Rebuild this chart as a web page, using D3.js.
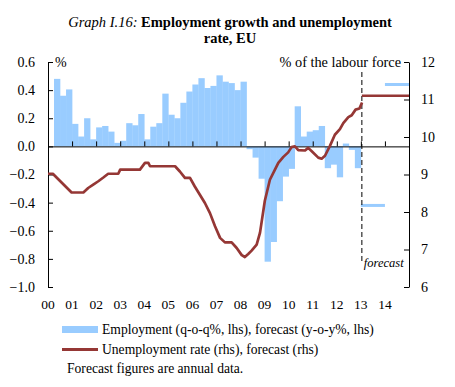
<!DOCTYPE html>
<html>
<head>
<meta charset="utf-8">
<script src="https://cdn.jsdelivr.net/npm/d3@7"></script>
<style>
  body { margin: 0; background: #fff; }
  svg text { font-family: "Liberation Serif", "Times New Roman", serif !important; fill: #000; }
</style>
</head>
<body>
<div id="chart"></div>
<script>
// data
let yearLabels = ["00", "01", "02", "03", "04", "05", "06", "07", "08", "09", "10", "11", "12", "13", "14"];

// quarterly employment growth, q-o-q %, lhs
let quarters = [
  "2000Q2", "2000Q3", "2000Q4",
  "2001Q1", "2001Q2", "2001Q3", "2001Q4",
  "2002Q1", "2002Q2", "2002Q3", "2002Q4",
  "2003Q1", "2003Q2", "2003Q3", "2003Q4",
  "2004Q1", "2004Q2", "2004Q3", "2004Q4",
  "2005Q1", "2005Q2", "2005Q3", "2005Q4",
  "2006Q1", "2006Q2", "2006Q3", "2006Q4",
  "2007Q1", "2007Q2", "2007Q3", "2007Q4",
  "2008Q1", "2008Q2", "2008Q3", "2008Q4",
  "2009Q1", "2009Q2", "2009Q3", "2009Q4",
  "2010Q1", "2010Q2", "2010Q3", "2010Q4",
  "2011Q1", "2011Q2", "2011Q3", "2011Q4",
  "2012Q1", "2012Q2", "2012Q3", "2012Q4"
];
let employment = [
  0.48, 0.36, 0.405,
  0.16, 0.07, 0.20, 0.05,
  0.135, 0.145, 0.105, 0.025,
  0.04, 0.165, 0.15, 0.23,
  0.05, 0.14, 0.165, 0.375,
  0.225, 0.20, 0.31, 0.39,
  0.44, 0.485, 0.415, 0.43,
  0.505, 0.46, 0.45, 0.40,
  0.46, -0.02, -0.08, -0.23,
  -0.82, -0.68, -0.39, -0.215,
  -0.16, 0.285, 0.07, 0.105,
  0.115, 0.145, -0.155, -0.13,
  -0.22, 0.02, -0.025, -0.155
];

// unemployment rate, % of labour force, rhs
let unempDates = [
  2000.0, 2000.2, 2000.98, 2001.47, 2001.67, 2001.88, 2002.09, 2002.3, 2002.5, 2002.92,
  2003.0, 2003.82, 2004.03, 2004.17, 2004.24, 2005.28, 2005.48, 2005.69, 2005.9, 2006.1,
  2006.31, 2006.52, 2006.73, 2006.94, 2007.15, 2007.35, 2007.63, 2007.84, 2008.05, 2008.18,
  2008.32, 2008.46, 2008.67, 2008.81, 2009.01, 2009.22, 2009.43, 2009.57, 2009.78, 2009.98,
  2010.12, 2010.26, 2010.4, 2010.68, 2010.81, 2010.96, 2011.23, 2011.37, 2011.51, 2011.72,
  2011.92, 2012.13, 2012.27, 2012.48, 2012.62, 2012.78, 2012.94, 2013.05
];
let unempRate = [
  9.02, 9.02, 8.52, 8.52, 8.64, 8.73, 8.82, 8.92, 9.02, 9.02,
  9.13, 9.13, 9.31, 9.31, 9.22, 9.22, 9.08, 8.91, 8.91, 8.68,
  8.46, 8.24, 7.97, 7.62, 7.31, 7.19, 7.19, 7.04, 6.85, 6.8,
  6.88, 6.97, 7.13, 7.45, 8.3, 8.86, 9.13, 9.31, 9.47, 9.59,
  9.73, 9.75, 9.65, 9.64, 9.71, 9.62, 9.45, 9.42, 9.5, 9.77,
  10.06, 10.21, 10.37, 10.53, 10.58, 10.73, 10.76, 10.92
];

// annual forecasts
let forecastYears = [2013, 2014];
let empForecast = [-0.42, 0.44];
let unempForecast = [11.1, 11.1];

let leftTicks = [0.6, 0.4, 0.2, 0.0, -0.2, -0.4, -0.6, -0.8, -1.0];
let rightTicks = [12, 11, 10, 9, 8, 7, 6];

// colours
let barColour = "#99ccff";
let lineColour = "#953735";
let serif = "'Liberation Serif', 'Times New Roman', serif";

// svg
let w = 455, h = 387;
let svg = d3.select("#chart")
  .append("svg")
  .attr("width", w)
  .attr("height", h)
  .attr("viewBox", "0 0 " + w + " " + h)
  .style("font-family", serif);

let x = d3.scaleLinear().domain([2000, 2015]).range([48, 409]);
let yL = d3.scaleLinear().domain([-1, 0.6]).range([287, 62]);
let yR = d3.scaleLinear().domain([6, 12]).range([287, 62]);

function qToYear(q) {
  return +q.slice(0, 4) + (+q.slice(5) - 1) / 4;
}

// title
let title = svg.append("text")
  .attr("x", 230)
  .attr("y", 27)
  .style("text-anchor", "middle")
  .style("font-size", "14.5px");
title.append("tspan").style("font-style", "italic").text("Graph I.16: ");
title.append("tspan").style("font-weight", "bold").text("Employment growth and unemployment");
svg.append("text")
  .attr("x", 230)
  .attr("y", 43)
  .style("text-anchor", "middle")
  .style("font-size", "14.5px")
  .style("font-weight", "bold")
  .text("rate, EU");

// bars
let qw = x(2000.25) - x(2000);
svg.append("g").selectAll("rect").data(quarters).join("rect")
  .attr("x", d => x(qToYear(d)))
  .attr("width", qw + 0.3)
  .attr("y", (d, i) => Math.min(yL(employment[i]), yL(0)))
  .attr("height", (d, i) => Math.abs(yL(employment[i]) - yL(0)))
  .attr("fill", barColour);

// employment forecast
svg.append("g").selectAll("line").data(forecastYears).join("line")
  .attr("x1", d => x(d))
  .attr("x2", d => x(d + 1))
  .attr("y1", (d, i) => yL(empForecast[i]))
  .attr("y2", (d, i) => yL(empForecast[i]))
  .attr("stroke", barColour)
  .attr("stroke-width", 3);

// x axis along zero
let xAxis = d3.axisBottom(x)
  .tickValues(d3.range(2001, 2015))
  .tickSizeInner(-5)
  .tickSizeOuter(0)
  .tickFormat("");
svg.append("g")
  .attr("transform", "translate(0," + yL(0) + ")")
  .call(xAxis)
  .call(g => g.selectAll("line,path").attr("stroke", "#000"));

// year labels at bottom
svg.append("g").selectAll("text").data(yearLabels).join("text")
  .attr("x", (d, i) => x(2000 + i))
  .attr("y", 309)
  .style("text-anchor", "middle")
  .style("font-size", "13.5px")
  .text(d => d);

// left axis
let leftAxis = d3.axisLeft(yL)
  .tickValues(leftTicks)
  .tickSizeInner(-5)
  .tickSizeOuter(0)
  .tickPadding(13)
  .tickFormat(d3.format(".1f"));
svg.append("g")
  .attr("transform", "translate(" + x(2000) + ",0)")
  .call(leftAxis)
  .attr("font-family", serif)
  .call(g => g.selectAll("line,path").attr("stroke", "#000"))
  .call(g => g.selectAll("text").style("font-size", "14px").attr("fill", "#000"));

// right axis
let rightAxis = d3.axisRight(yR)
  .tickValues(rightTicks)
  .tickSizeInner(-5)
  .tickSizeOuter(0)
  .tickPadding(12)
  .tickFormat(d3.format("d"));
svg.append("g")
  .attr("transform", "translate(" + x(2015) + ",0)")
  .call(rightAxis)
  .attr("font-family", serif)
  .call(g => g.selectAll("line,path").attr("stroke", "#000"))
  .call(g => g.selectAll("text").style("font-size", "14px").attr("fill", "#000"));

// axis titles
svg.append("text")
  .attr("x", 55)
  .attr("y", 67)
  .style("font-size", "14px")
  .text("%");
svg.append("text")
  .attr("x", 401)
  .attr("y", 67)
  .style("text-anchor", "end")
  .style("font-size", "14.3px")
  .text("% of the labour force");

// forecast divider
svg.append("line")
  .attr("x1", x(2013) + 1)
  .attr("x2", x(2013) + 1)
  .attr("y1", 72)
  .attr("y2", 264)
  .attr("stroke", "#000")
  .attr("stroke-width", 1)
  .attr("stroke-dasharray", "5,3");
svg.append("text")
  .attr("x", x(2013) + 3)
  .attr("y", 267)
  .style("font-size", "12.5px")
  .style("font-style", "italic")
  .text("forecast");

// unemployment line
let line = d3.line()
  .x((d, i) => x(d))
  .y((d, i) => yR(unempRate[i]));
svg.append("path")
  .datum(unempDates)
  .attr("d", line)
  .attr("fill", "none")
  .attr("stroke", lineColour)
  .attr("stroke-width", 2.7)
  .attr("stroke-linejoin", "round");

// unemployment forecast
svg.append("line")
  .attr("x1", x(forecastYears[0]) + 1)
  .attr("x2", x(forecastYears[1] + 1))
  .attr("y1", yR(unempForecast[0]))
  .attr("y2", yR(unempForecast[1]))
  .attr("stroke", lineColour)
  .attr("stroke-width", 2.7);

// legend
let legend = svg.append("g");
legend.append("rect")
  .attr("x", 62)
  .attr("y", 326)
  .attr("width", 36)
  .attr("height", 7)
  .attr("fill", barColour);
legend.append("text")
  .attr("x", 102)
  .attr("y", 334)
  .style("font-size", "13.6px")
  .text("Employment (q-o-q%, lhs), forecast (y-o-y%, lhs)");
legend.append("line")
  .attr("x1", 62)
  .attr("x2", 98)
  .attr("y1", 349.5)
  .attr("y2", 349.5)
  .attr("stroke", lineColour)
  .attr("stroke-width", 3);
legend.append("text")
  .attr("x", 102)
  .attr("y", 354)
  .style("font-size", "13.6px")
  .text("Unemployment rate (rhs), forecast (rhs)");
legend.append("text")
  .attr("x", 67)
  .attr("y", 373)
  .style("font-size", "13.6px")
  .text("Forecast figures are annual data.");
</script>
</body>
</html>
